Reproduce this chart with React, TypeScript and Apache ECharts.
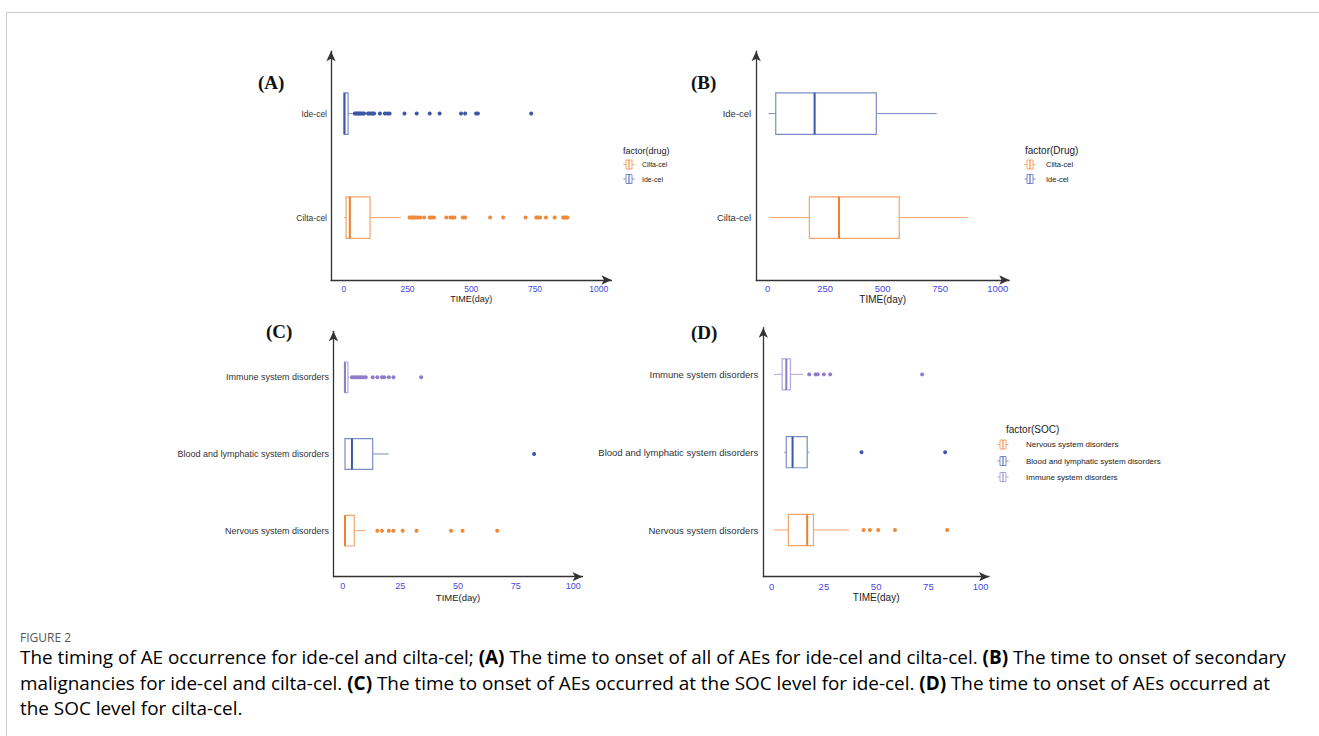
import React, { useEffect, useRef } from "react";
import * as echarts from "echarts";

// ---------- data ----------
const drugCats = ["Cilta-cel", "Ide-cel"];
const socCats = [
  "Nervous system disorders",
  "Blood and lymphatic system disorders",
  "Immune system disorders",
];
const ticksLong = [0, 250, 500, 750, 1000];
const ticksShort = [0, 25, 50, 75, 100];

// box stats: [min, q1, median, q3, max]
const boxA_cilta = [1, 9, 24, 103, 224];
const boxA_ide = [0, 1, 3, 17, 34];
const outA_cilta = [258, 264, 270, 276, 282, 290, 300, 315, 337, 345, 354, 402, 418, 426, 434, 467, 476, 574, 625, 713, 755, 762, 770, 793, 827, 860, 866, 872, 877];
const outA_ide = [43, 48, 53, 58, 63, 68, 74, 80, 95, 101, 108, 114, 119, 142, 161, 171, 180, 238, 286, 337, 376, 460, 476, 519, 526, 735];

const boxB_cilta = [7, 181, 310, 572, 872];
const boxB_ide = [3, 35, 204, 472, 735];

const boxC_nervous = [1, 1, 1, 5, 10];
const boxC_blood = [1, 1, 4, 13, 20];
const boxC_immune = [0.75, 0.75, 1, 2.25, 3];
const outC_nervous = [15, 17, 20, 22, 26, 32, 47, 52, 67];
const outC_blood = [83];
const outC_immune = [4, 5, 6, 7, 8, 9, 10, 13, 15, 17, 18, 20, 22, 34];

const boxD_nervous = [1, 8, 17, 20, 37];
const boxD_blood = [6, 7, 10, 17, 18];
const boxD_immune = [1, 5, 7, 9, 15];
const outD_nervous = [44, 47, 51, 59, 84];
const outD_blood = [43, 83];
const outD_immune = [18, 21, 22, 25, 28, 72];

// ---------- styles ----------
const PAL = {
  orange: { box: "#F5A46A", med: "#EE7F2D", pt: "#F0883A" },
  blue: { box: "#7C8CC6", med: "#3D57A6", pt: "#3D57A6" },
  purple: { box: "#B3A7DB", med: "#8E7DC8", pt: "#8E7DC8" },
};
const palList = [PAL.orange, PAL.blue, PAL.purple];

const SANS = "'Liberation Sans', Arial, sans-serif";
const SERIF = "'Liberation Serif', 'Times New Roman', serif";

function axisLineCfg() {
  return {
    show: true,
    onZero: false,
    symbol: ["none", "arrow"],
    symbolSize: [7, 10],
    lineStyle: { color: "#333", width: 1.3 },
  };
}

function makeX(idx: number, min: number, max: number, ticks: number[], fs: number, margin: number, gap: number) {
  return {
    type: "value",
    gridIndex: idx,
    min,
    max,
    axisLine: axisLineCfg(),
    axisTick: { show: false },
    splitLine: { show: false },
    axisLabel: {
      customValues: ticks,
      formatter: (v: number) => String(v),
      color: "#4747E0",
      fontSize: fs,
      fontFamily: SANS,
      margin,
    },
    name: "TIME(day)",
    nameLocation: "middle",
    nameGap: gap,
    nameTextStyle: { color: "#222", fontSize: fs + 0.5, fontFamily: SANS },
  };
}

function makeY(idx: number, cats: string[], fs: number, margin: number) {
  const vals = cats.map((_, i) => i + 1);
  return {
    type: "value",
    gridIndex: idx,
    min: 0.4,
    max: cats.length + 0.6,
    axisLine: axisLineCfg(),
    axisTick: { show: false },
    splitLine: { show: false },
    axisLabel: {
      customValues: vals,
      formatter: (v: number) => cats[Math.round(v) - 1] || "",
      color: "#333",
      fontSize: fs,
      fontFamily: SANS,
      margin,
    },
  };
}

function boxSeries(idx: number, boxes: number[][]) {
  const data = boxes.map((b, i) => [i + 1, ...b, i]);
  return {
    type: "custom",
    xAxisIndex: idx,
    yAxisIndex: idx,
    encode: { x: [1, 2, 3, 4, 5], y: 0 },
    data,
    renderItem: (params: any, api: any) => {
      const y = api.value(0);
      const c = palList[api.value(6)];
      const lo = api.coord([api.value(1), y]);
      const q1 = api.coord([api.value(2), y]);
      const md = api.coord([api.value(3), y]);
      const q3 = api.coord([api.value(4), y]);
      const hi = api.coord([api.value(5), y]);
      const half = Math.abs(api.size([0, 0.2])[1]);
      const children: any[] = [];
      if (q1[0] - lo[0] > 0.3)
        children.push({ type: "line", shape: { x1: lo[0], y1: lo[1], x2: q1[0], y2: q1[1] }, style: { stroke: c.box, lineWidth: 1 } });
      if (hi[0] - q3[0] > 0.3)
        children.push({ type: "line", shape: { x1: q3[0], y1: q3[1], x2: hi[0], y2: hi[1] }, style: { stroke: c.box, lineWidth: 1 } });
      children.push({
        type: "rect",
        shape: { x: q1[0], y: q1[1] - half, width: q3[0] - q1[0], height: half * 2 },
        style: { fill: "rgba(255,255,255,0)", stroke: c.box, lineWidth: 1.2 },
      });
      children.push({
        type: "line",
        shape: { x1: md[0], y1: md[1] - half, x2: md[0], y2: md[1] + half },
        style: { stroke: c.med, lineWidth: 2 },
      });
      return { type: "group", children };
    },
  };
}

function outSeries(idx: number, cat: number, vals: number[], color: string) {
  return {
    type: "scatter",
    xAxisIndex: idx,
    yAxisIndex: idx,
    symbol: "circle",
    symbolSize: 4,
    itemStyle: { color, opacity: 1 },
    data: vals.map((v) => [v, cat]),
  };
}

function glyph(cx: number, cy: number, c: { box: string; med: string }) {
  return [
    { type: "line", shape: { x1: cx - 5.5, y1: cy, x2: cx - 3, y2: cy }, style: { stroke: c.box, lineWidth: 1 } },
    { type: "line", shape: { x1: cx + 3, y1: cy, x2: cx + 5.5, y2: cy }, style: { stroke: c.box, lineWidth: 1 } },
    { type: "rect", shape: { x: cx - 3, y: cy - 4.5, width: 6, height: 9 }, style: { fill: "#fff", stroke: c.box, lineWidth: 1 } },
    { type: "line", shape: { x1: cx, y1: cy - 4.5, x2: cx, y2: cy + 4.5 }, style: { stroke: c.med, lineWidth: 1 } },
  ];
}

function legend(x: number, titleY: number, title: string, titleFs: number, glyphX: number, itemYs: number[], labels: string[], cols: any[], labelX: number, labelFs: number) {
  const els: any[] = [
    { type: "text", x, y: titleY, style: { text: title, fontSize: titleFs, fontFamily: SANS, fill: "#222", verticalAlign: "middle" } },
  ];
  labels.forEach((l, i) => {
    els.push(...glyph(glyphX, itemYs[i], cols[i]));
    els.push({ type: "text", x: labelX, y: itemYs[i], style: { text: l, fontSize: labelFs, fontFamily: SANS, fill: "#222", verticalAlign: "middle" } });
  });
  return els;
}

const captionLines = [
  "{n|The timing of AE occurrence for ide-cel and cilta-cel; }{b|(A)}{n| The time to onset of all of AEs for ide-cel and cilta-cel. }{b|(B)}{n| The time to onset of secondary}",
  "{n|malignancies for ide-cel and cilta-cel. }{b|(C)}{n| The time to onset of AEs occurred at the SOC level for ide-cel. }{b|(D)}{n| The time to onset of AEs occurred at}",
  "{n|the SOC level for cilta-cel.}",
];

export default function App() {
  const ref = useRef<HTMLDivElement>(null);
  useEffect(() => {
    if (!ref.current) return;
    const chart = echarts.init(ref.current, undefined, { renderer: "svg" });
    const capFont = "'Open Sans', Lato, sans-serif";
    const rich = {
      n: { fontSize: 18.9, fontFamily: capFont, color: "#666" },
      b: { fontSize: 18.9, fontFamily: capFont, fontWeight: "bold", color: "#555" },
    };
    const graphics: any[] = [
      { type: "line", shape: { x1: 6.5, y1: 12.5, x2: 1319, y2: 12.5 }, style: { stroke: "#cccccc", lineWidth: 1 } },
      { type: "line", shape: { x1: 6.5, y1: 12.5, x2: 6.5, y2: 736 }, style: { stroke: "#cccccc", lineWidth: 1 } },
      { type: "text", x: 258, y: 82, style: { text: "(A)", fontSize: 19, fontWeight: "bold", fontFamily: SERIF, fill: "#111", verticalAlign: "middle" } },
      { type: "text", x: 691, y: 82, style: { text: "(B)", fontSize: 19, fontWeight: "bold", fontFamily: SERIF, fill: "#111", verticalAlign: "middle" } },
      { type: "text", x: 266, y: 331, style: { text: "(C)", fontSize: 19, fontWeight: "bold", fontFamily: SERIF, fill: "#111", verticalAlign: "middle" } },
      { type: "text", x: 691, y: 332, style: { text: "(D)", fontSize: 19, fontWeight: "bold", fontFamily: SERIF, fill: "#111", verticalAlign: "middle" } },
      ...legend(623, 151, "factor(drug)", 9, 629, [164.5, 179], drugCats, [PAL.orange, PAL.blue], 642, 7),
      ...legend(1025, 150, "factor(Drug)", 10, 1030, [164.5, 179], drugCats, [PAL.orange, PAL.blue], 1046, 7.5),
      ...legend(1006, 429, "factor(SOC)", 10, 1003, [444.5, 461, 477], socCats, [PAL.orange, PAL.blue, PAL.purple], 1026, 8),
      { type: "text", x: 20, y: 637, style: { text: "FIGURE 2", fontSize: 12, fontFamily: capFont, fill: "#555", verticalAlign: "middle" } },
      ...captionLines.map((t, i) => ({
        type: "text",
        x: 20,
        y: 657 + i * 25.5,
        style: { text: t, rich, verticalAlign: "middle", fontSize: 18.9, fontFamily: capFont },
      })),
    ];

    const option: any = {
      animation: false,
      backgroundColor: "#ffffff",
      grid: [
        { left: 331, top: 51.2, width: 280.5, height: 228.8, outerBoundsMode: "none" },
        { left: 756.2, top: 51.2, width: 253, height: 228.8, outerBoundsMode: "none" },
        { left: 333.5, top: 331.3, width: 249, height: 245.4, outerBoundsMode: "none" },
        { left: 763.3, top: 327.7, width: 225.7, height: 249, outerBoundsMode: "none" },
      ],
      xAxis: [
        makeX(0, -50, 1050, ticksLong, 8.5, 4, 14),
        makeX(1, -50, 1050, ticksLong, 9.5, 3.5, 12.5),
        makeX(2, -4, 104, ticksShort, 9, 5, 15.5),
        makeX(3, -4, 104, ticksShort, 9.5, 4.5, 14.5),
      ],
      yAxis: [
        makeY(0, drugCats, 8.5, 4),
        makeY(1, drugCats, 9.5, 5),
        makeY(2, socCats, 9, 4.5),
        makeY(3, socCats, 9.5, 5),
      ],
      series: [
        boxSeries(0, [boxA_cilta, boxA_ide]),
        outSeries(0, 1, outA_cilta, PAL.orange.pt),
        outSeries(0, 2, outA_ide, PAL.blue.pt),
        boxSeries(1, [boxB_cilta, boxB_ide]),
        boxSeries(2, [boxC_nervous, boxC_blood, boxC_immune]),
        outSeries(2, 1, outC_nervous, PAL.orange.pt),
        outSeries(2, 2, outC_blood, PAL.blue.pt),
        outSeries(2, 3, outC_immune, PAL.purple.pt),
        boxSeries(3, [boxD_nervous, boxD_blood, boxD_immune]),
        outSeries(3, 1, outD_nervous, PAL.orange.pt),
        outSeries(3, 2, outD_blood, PAL.blue.pt),
        outSeries(3, 3, outD_immune, PAL.purple.pt),
      ],
      graphic: graphics,
    };
    chart.setOption(option);
    return () => chart.dispose();
  }, []);
  return (
    <div
      ref={ref}
      style={{ position: "absolute", left: 0, top: 0, width: 1319, height: 736, background: "#fff" }}
    />
  );
}
